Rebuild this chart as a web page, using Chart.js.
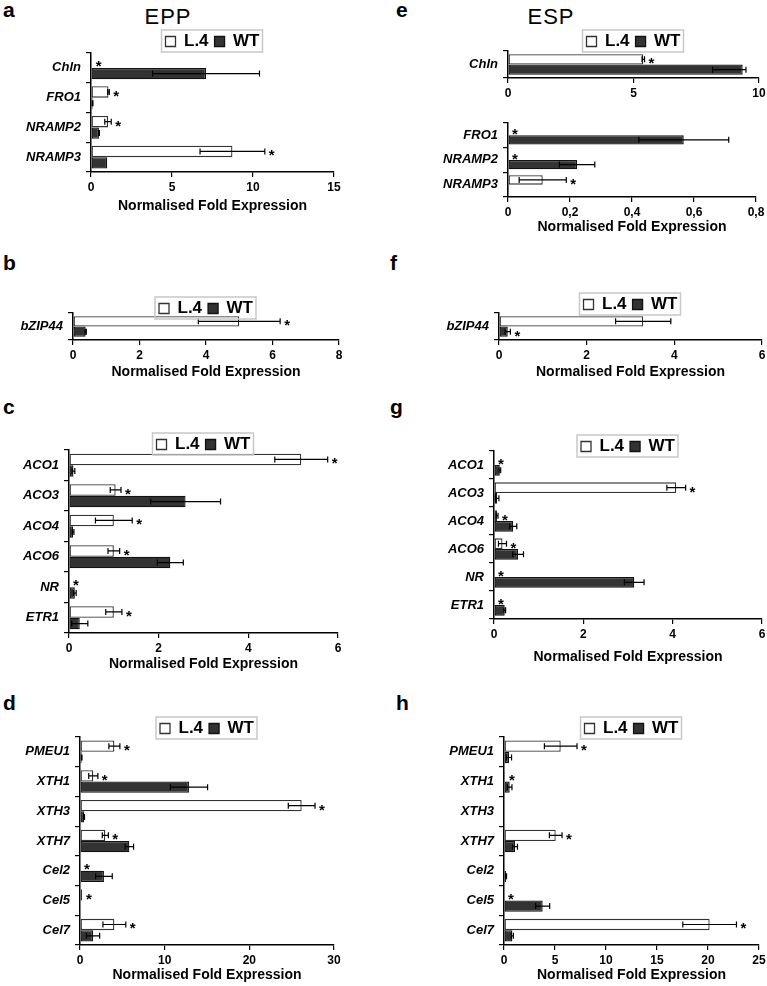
<!DOCTYPE html>
<html>
<head>
<meta charset="utf-8">
<script src="https://cdn.jsdelivr.net/npm/chart.js"></script>
<style>
  body { margin:0; background:#fff; width:767px; height:986px; position:relative; overflow:hidden;
         font-family:"Liberation Sans", Arial, Helvetica, sans-serif; color:#000; }
  .lab { position:absolute; font-weight:bold; font-size:21px; line-height:20px; }
  .head { position:absolute; font-size:22px; line-height:22px; width:100px; text-align:center; letter-spacing:1px; }
  canvas { position:absolute; }
</style>
</head>
<body>
<div class="lab" style="left:3px;top:0px">a</div>
<div class="lab" style="left:396px;top:0px">e</div>
<div class="lab" style="left:3px;top:253px">b</div>
<div class="lab" style="left:390px;top:253px">f</div>
<div class="lab" style="left:3px;top:397px">c</div>
<div class="lab" style="left:390px;top:397px">g</div>
<div class="lab" style="left:3px;top:693px">d</div>
<div class="lab" style="left:396px;top:693px">h</div>
<div class="head" style="left:118px;top:6px">EPP</div>
<div class="head" style="left:501px;top:6px">ESP</div>

<script>
    // ---- data ----
    var seriesNames = ['L.4', 'WT'];
    var axisTitle = 'Normalised Fold Expression';

    // a  EPP, iron genes
    var aGenes = ['Chln', 'FRO1', 'NRAMP2', 'NRAMP3'];
    var aL4 = [0.05, 1.08, 1.05, 8.73];
    var aL4Err = [0, 0.05, 0.2, 2.0];
    var aWT = [7.1, 0.1, 0.49, 1.0];
    var aWTErr = [3.3, 0.02, 0.03, 0];
    var aStars = [0, 0, 0, 0];          // 0 = next to L.4, 1 = next to WT, -1 = none
    var aTicks = ['0', '5', '10', '15'];

    // e  ESP, Chln (own axis)
    var e1Genes = ['Chln'];
    var e1L4 = [5.39];
    var e1L4Err = [0.05];
    var e1WT = [9.35];
    var e1WTErr = [[1.2, 0.13]];
    var e1Stars = [0];
    var e1Ticks = ['0', '5', '10'];

    // e  ESP, other iron genes
    var e2Genes = ['FRO1', 'NRAMP2', 'NRAMP3'];
    var e2L4 = [0, 0, 0.112];
    var e2L4Err = [0, 0, 0.076];
    var e2WT = [0.567, 0.223, 0.004];
    var e2WTErr = [0.145, 0.057, 0];
    var e2Stars = [0, 0, 0];
    var e2Ticks = ['0', '0,2', '0,4', '0,6', '0,8'];

    // b  EPP bZIP44
    var bGenes = ['bZIP44'];
    var bL4 = [5.0];
    var bL4Err = [1.23];
    var bWT = [0.38];
    var bWTErr = [0.02];
    var bStars = [0];
    var bTicks = ['0', '2', '4', '6', '8'];

    // f  ESP bZIP44
    var fGenes = ['bZIP44'];
    var fL4 = [3.29];
    var fL4Err = [0.63];
    var fWT = [0.2];
    var fWTErr = [0.06];
    var fStars = [1];
    var fTicks = ['0', '2', '4', '6'];

    // c  EPP ethylene genes
    var cGenes = ['ACO1', 'ACO3', 'ACO4', 'ACO6', 'NR', 'ETR1'];
    var cL4 = [5.18, 1.04, 1.0, 1.0, 0, 1.0];
    var cL4Err = [0.59, 0.12, 0.41, 0.13, 0, 0.18];
    var cWT = [0.1, 2.6, 0.09, 2.26, 0.13, 0.24];
    var cWTErr = [0.03, 0.78, 0.02, 0.29, 0.03, 0.18];
    var cStars = [0, 0, 0, 0, 0, 0];
    var cTicks = ['0', '2', '4', '6'];

    // g  ESP ethylene genes
    var gGenes = ['ACO1', 'ACO3', 'ACO4', 'ACO6', 'NR', 'ETR1'];
    var gL4 = [0, 4.08, 0.07, 0.19, 0, 0];
    var gL4Err = [0, 0.21, 0.02, 0.09, 0, 0];
    var gWT = [0.13, 0.07, 0.43, 0.54, 3.14, 0.24];
    var gWTErr = [0.02, 0.04, 0.08, 0.12, 0.22, 0.02];
    var gStars = [0, 0, 0, 0, 0, 0];
    var gTicks = ['0', '2', '4', '6'];

    // d  EPP cell wall genes
    var dGenes = ['PMEU1', 'XTH1', 'XTH3', 'XTH7', 'Cel2', 'Cel5', 'Cel7'];
    var dL4 = [4.06, 1.57, 26.18, 2.99, 0, 0.24, 4.06];
    var dL4Err = [0.65, 0.54, 1.58, 0.36, 0, 0, 1.35];
    var dWT = [0.2, 12.87, 0.5, 5.83, 2.83, 0, 1.54];
    var dWTErr = [0.03, 2.2, 0.03, 0.5, 0.98, 0, 0.78];
    var dStars = [0, 0, 0, 0, 0, 0, 0];
    var dTicks = ['0', '10', '20', '30'];

    // h  ESP cell wall genes
    var hGenes = ['PMEU1', 'XTH1', 'XTH3', 'XTH7', 'Cel2', 'Cel5', 'Cel7'];
    var hL4 = [5.56, 0.1, 0, 5.07, 0.05, 0, 20.16];
    var hL4Err = [1.6, 0, 0, 0.62, 0, 0, 2.63];
    var hWT = [0.49, 0.56, 0, 1.08, 0.2, 3.79, 0.82];
    var hWTErr = [0.25, 0.22, 0, 0.24, 0.05, 0.69, 0.1];
    var hStars = [0, 0, -1, 0, -1, 0, 0];
    var hTicks = ['0', '5', '10', '15', '20', '25'];

    // ---- page placement of each plot area ----
    var boxes = {
        a:  {col: 0,   x0: 91,  x1: 334, top: 53,  bottom: 172, title: 207,  legend: 30},
        e1: {col: 384, x0: 508, x1: 759, top: 51,  bottom: 78,  title: null, legend: 30},
        e2: {col: 384, x0: 508, x1: 756, top: 116, bottom: 197, title: 228,  legend: null},
        b:  {col: 0,   x0: 73,  x1: 339, top: 313, bottom: 340, title: 373,  legend: 297},
        f:  {col: 384, x0: 499, x1: 762, top: 313, bottom: 340, title: 373,  legend: 293},
        c:  {col: 0,   x0: 69,  x1: 338, top: 450, bottom: 633, title: 665,  legend: 433},
        g:  {col: 384, x0: 494, x1: 762, top: 451, bottom: 619, title: 658,  legend: 435},
        d:  {col: 0,   x0: 80,  x1: 334, top: 737, bottom: 945, title: 976,  legend: 717},
        h:  {col: 384, x0: 504, x1: 759, top: 737, bottom: 945, title: 976,  legend: 717}
    };

    var FONT = '"Liberation Sans", Arial, Helvetica, sans-serif';
    var LEGEND_FONT = 17;
    var LEGEND_PAD = 6;
    Chart.defaults.font.family = FONT;
    Chart.defaults.color = '#000';
    Chart.defaults.animation = false;

    // error bars, significance stars, legend frame
    var extras = {
        id: 'extras',
        afterUpdate: function (chart) {
            var o = chart.options.plugins.extras;
            var lg = chart.legend;
            if (!lg || !lg.options.display || !o.legendShift) return;
            lg.top += o.legendShift;
            lg.bottom += o.legendShift;
            lg.legendHitBoxes.forEach(function (hb) { hb.top += o.legendShift; });
        },
        afterDatasetsDraw: function (chart) {
            var ctx = chart.ctx;
            var xs = chart.scales.x;
            var o = chart.options.plugins.extras;
            ctx.save();
            ctx.strokeStyle = '#000';
            ctx.lineWidth = 1.2;
            chart.data.datasets.forEach(function (ds, di) {
                chart.getDatasetMeta(di).data.forEach(function (bar, i) {
                    var e = ds.err[i];
                    var m = Array.isArray(e) ? e[0] : e;
                    var p = Array.isArray(e) ? e[1] : e;
                    if (!m && !p) return;
                    var v = ds.data[i];
                    var xa = xs.getPixelForValue(v - m), xb = xs.getPixelForValue(v + p);
                    ctx.beginPath();
                    ctx.moveTo(xa, bar.y); ctx.lineTo(xb, bar.y);
                    ctx.moveTo(xa, bar.y - 3); ctx.lineTo(xa, bar.y + 3);
                    ctx.moveTo(xb, bar.y - 3); ctx.lineTo(xb, bar.y + 3);
                    ctx.stroke();
                });
            });
            ctx.fillStyle = '#000';
            ctx.font = 'bold 15px ' + FONT;
            ctx.textAlign = 'left';
            ctx.textBaseline = 'alphabetic';
            o.stars.forEach(function (s, i) {
                if (s < 0) return;
                var ds = chart.data.datasets[s];
                var bar = chart.getDatasetMeta(s).data[i];
                var e = ds.err[i];
                var p = Array.isArray(e) ? e[1] : e;
                var x = xs.getPixelForValue(ds.data[i] + (p || 0)) + 4;
                ctx.fillText('*', x, bar.y + 9);
            });
            ctx.restore();
        },
        afterDraw: function (chart) {
            var lg = chart.legend;
            if (!lg || !lg.options.display) return;
            var hb = lg.legendHitBoxes;
            var l = Math.min.apply(null, hb.map(function (h) { return h.left; })) - 4;
            var r = Math.max.apply(null, hb.map(function (h) { return h.left + h.width; })) + 3;
            var t = hb[0].top - 3, btm = hb[0].top + hb[0].height + 2;
            var ctx = chart.ctx;
            ctx.save();
            ctx.strokeStyle = '#c8c8c8';
            ctx.lineWidth = 1.5;
            ctx.strokeRect(l, t, r - l, btm - t);
            ctx.restore();
        }
    };

    function drawPanel(box, genes, l4, l4Err, wt, wtErr, stars, ticks) {
        var vals = ticks.map(function (t) { return parseFloat(t.replace(',', '.')); });
        var hasLegend = box.legend !== null;
        var hasTitle = box.title !== null;
        var legendH = LEGEND_FONT + LEGEND_PAD + 10;
        var top = box.top - (hasLegend ? legendH : 6);
        var wantXH = hasTitle ? box.title - box.bottom + 8.4 : 24;
        var height = Math.round(box.bottom + wantXH - top);
        var xH = height - (box.bottom - top);
        var yW = box.x0 - box.col;
        // where the legend row would sit by default, and where it sits in the figure
        var shift = hasLegend ? (box.legend + 3) - (box.top - LEGEND_FONT - 10) : 0;

        var cv = document.createElement('canvas');
        cv.width = box.x1 + 14 - box.col;
        cv.height = height;
        cv.style.left = box.col + 'px';
        cv.style.top = top + 'px';
        document.body.appendChild(cv);

        new Chart(cv, {
            type: 'bar',
            data: {
                labels: genes,
                datasets: [{
                    label: seriesNames[0], data: l4, err: l4Err,
                    backgroundColor: '#ffffff', borderColor: '#333333', borderWidth: 1.3, borderSkipped: false
                }, {
                    label: seriesNames[1], data: wt, err: wtErr,
                    backgroundColor: '#333333', borderColor: '#111111', borderWidth: 1.3, borderSkipped: false
                }]
            },
            options: {
                indexAxis: 'y',
                responsive: false,
                devicePixelRatio: 1,
                categoryPercentage: 0.76,
                barPercentage: 1.0,
                layout: {padding: {top: hasLegend ? 0 : 6, right: 14, left: 0, bottom: 0}},
                plugins: {
                    tooltip: {enabled: false},
                    legend: {
                        display: hasLegend, position: 'top', fullSize: false,
                        labels: {boxWidth: 10, boxHeight: 10, padding: LEGEND_PAD, color: '#000',
                                 font: {size: LEGEND_FONT, weight: 'bold'}}
                    },
                    extras: {stars: stars, legendShift: shift}
                },
                scales: {
                    y: {
                        grid: {drawOnChartArea: false, drawTicks: true, tickLength: 5, color: '#000', lineWidth: 1.2, offset: true},
                        border: {color: '#000', width: 1.5},
                        ticks: {color: '#000', padding: 5, font: {size: 13, weight: 'bold', style: 'italic'}},
                        afterFit: function (s) { s.width = yW; }
                    },
                    x: {
                        min: vals[0], max: vals[vals.length - 1],
                        grid: {drawOnChartArea: false, drawTicks: true, tickLength: 5, color: '#000', lineWidth: 1.2},
                        border: {color: '#000', width: 1.5},
                        afterBuildTicks: function (s) { s.ticks = vals.map(function (v) { return {value: v}; }); },
                        ticks: {
                            color: '#000', padding: 3, autoSkip: false, maxRotation: 0,
                            font: {size: 12, weight: 'bold'},
                            callback: function (v) { return ticks[vals.indexOf(v)]; }
                        },
                        title: {display: hasTitle, text: axisTitle, color: '#000', padding: 0,
                                font: {size: 14, weight: 'bold'}},
                        afterFit: function (s) { s.height = xH; }
                    }
                }
            },
            plugins: [extras]
        });
    }

    drawPanel(boxes.a, aGenes, aL4, aL4Err, aWT, aWTErr, aStars, aTicks);
    drawPanel(boxes.e1, e1Genes, e1L4, e1L4Err, e1WT, e1WTErr, e1Stars, e1Ticks);
    drawPanel(boxes.e2, e2Genes, e2L4, e2L4Err, e2WT, e2WTErr, e2Stars, e2Ticks);
    drawPanel(boxes.b, bGenes, bL4, bL4Err, bWT, bWTErr, bStars, bTicks);
    drawPanel(boxes.f, fGenes, fL4, fL4Err, fWT, fWTErr, fStars, fTicks);
    drawPanel(boxes.c, cGenes, cL4, cL4Err, cWT, cWTErr, cStars, cTicks);
    drawPanel(boxes.g, gGenes, gL4, gL4Err, gWT, gWTErr, gStars, gTicks);
    drawPanel(boxes.d, dGenes, dL4, dL4Err, dWT, dWTErr, dStars, dTicks);
    drawPanel(boxes.h, hGenes, hL4, hL4Err, hWT, hWTErr, hStars, hTicks);
</script>
</body>
</html>
